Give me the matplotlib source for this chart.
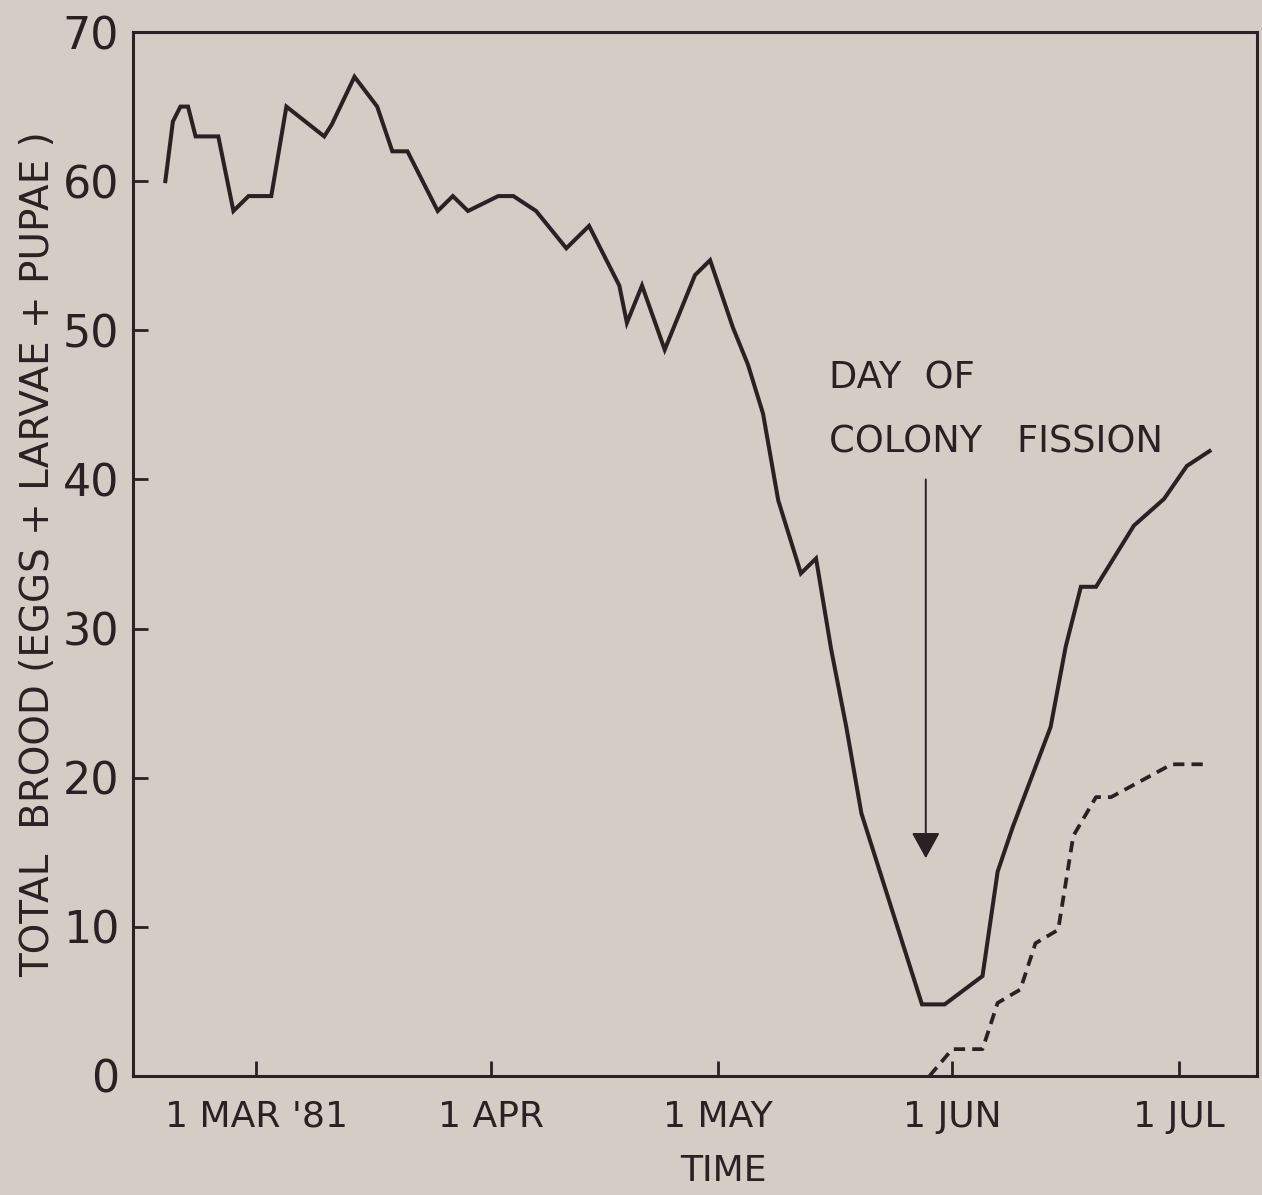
import pandas as pd
import matplotlib
matplotlib.use('Agg')
import matplotlib.pyplot as plt

# Total brood
brood_dates = ['1981-02-17', '1981-02-18', '1981-02-19', '1981-02-20', '1981-02-21',
               '1981-02-24', '1981-02-26', '1981-02-28', '1981-03-03', '1981-03-05',
               '1981-03-10', '1981-03-11', '1981-03-14', '1981-03-17', '1981-03-19',
               '1981-03-21', '1981-03-25', '1981-03-27', '1981-03-29', '1981-04-02',
               '1981-04-04', '1981-04-07', '1981-04-11', '1981-04-14', '1981-04-18',
               '1981-04-19', '1981-04-21', '1981-04-24', '1981-04-28', '1981-04-30',
               '1981-05-03', '1981-05-05', '1981-05-07', '1981-05-09', '1981-05-12',
               '1981-05-14', '1981-05-16', '1981-05-18', '1981-05-20', '1981-05-28',
               '1981-05-31', '1981-06-05', '1981-06-07', '1981-06-09', '1981-06-14',
               '1981-06-16', '1981-06-18', '1981-06-20', '1981-06-25', '1981-06-29',
               '1981-07-02', '1981-07-05']
brood_values = [60, 64, 65, 65, 63,
                63, 58, 59, 59, 65,
                63, 63.8, 67, 65, 62,
                62, 58, 59, 58, 59,
                59, 58, 55.5, 57, 53,
                50.5, 53, 48.7, 53.7, 54.7,
                50.2, 47.7, 44.4, 38.6, 33.7,
                34.7, 28.6, 23.4, 17.6, 4.8,
                4.8, 6.7, 13.7, 16.7, 23.4,
                28.8, 32.8, 32.8, 36.9, 38.7,
                40.9, 41.9]

# Brood of the daughter colony after fission (dashed)
daughter_dates = ['1981-05-29', '1981-06-01', '1981-06-05', '1981-06-07', '1981-06-10',
                  '1981-06-12', '1981-06-15', '1981-06-17', '1981-06-20', '1981-06-22',
                  '1981-06-30', '1981-07-05']
daughter_values = [0, 1.8, 1.8, 4.9, 5.8,
                   8.9, 9.8, 16.1, 18.7, 18.7,
                   20.9, 20.9]

month_ticks = ['1981-03-01', '1981-04-01', '1981-05-01', '1981-06-01', '1981-07-01']
month_labels = ["1 MAR '81", '1 APR', '1 MAY', '1 JUN', '1 JUL']

fission_date = '1981-05-28 12:00'
arrow_top = 40
arrow_tip = 14.6
note_date = '1981-05-15 16:00'

paper = '#d6ccc6'
ink = '#2a2222'

plt.rcParams['font.family'] = ['DejaVu Sans']

fig = plt.figure(figsize=(12.62, 11.95), dpi=100, facecolor=paper)
ax = fig.add_axes([0.1054, 0.0996, 0.8906, 0.8736])
ax.set_facecolor(paper)

ax.plot(pd.to_datetime(brood_dates), brood_values, color=ink, lw=2.9,
        solid_joinstyle='miter')
ax.plot(pd.to_datetime(daughter_dates), daughter_values, color=ink, lw=2.7,
        linestyle=(0, (3.0, 1.9)))

ax.annotate('', xy=(pd.Timestamp(fission_date), arrow_tip),
            xytext=(pd.Timestamp(fission_date), arrow_top),
            arrowprops=dict(arrowstyle='-|>,head_length=0.4,head_width=0.22',
                            mutation_scale=40, lw=1.4, color=ink,
                            shrinkA=0, shrinkB=0))
ax.text(pd.Timestamp(note_date), 46.8, 'DAY  OF', fontsize=26.5, color=ink,
        va='center', ha='left')
ax.text(pd.Timestamp(note_date), 42.5, 'COLONY   FISSION', fontsize=26.5, color=ink,
        va='center', ha='left')

ax.set_xlim(pd.Timestamp('1981-02-12 17:30'), pd.Timestamp('1981-07-11 06:30'))
ax.set_ylim(0, 70)

ax.set_xticks(pd.to_datetime(month_ticks))
ax.set_xticklabels(month_labels)
ax.set_yticks(range(0, 71, 10))

ax.tick_params(axis='x', direction='in', length=11, width=2, colors=ink,
               labelsize=26, pad=17)
ax.tick_params(axis='y', direction='in', length=11, width=2, colors=ink,
               labelsize=32, pad=10)

for side in ['left', 'bottom', 'right', 'top']:
    ax.spines[side].set_linewidth(2.2)
    ax.spines[side].set_color(ink)

ax.set_xlabel('TIME', fontsize=26, color=ink, labelpad=18)
ax.xaxis.set_label_coords(0.525, -0.075)
ax.set_ylabel('TOTAL  BROOD (EGGS + LARVAE + PUPAE )', fontsize=28,
              color=ink, labelpad=4)

fig.savefig('out.png', dpi=100, facecolor=paper)
